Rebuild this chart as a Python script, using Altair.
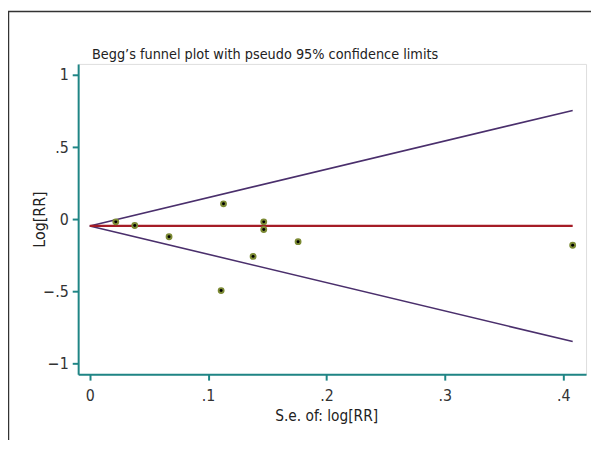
import altair as alt
import pandas as pd

# ---- data ----
se = [0.022, 0.038, 0.067, 0.113, 0.147, 0.147, 0.176, 0.138, 0.111, 0.408]
logrr = [-0.017, -0.042, -0.120, 0.108, -0.017, -0.070, -0.154, -0.256, -0.493, -0.179]

line_se = [0.0, 0.408]
pooled = [-0.045, -0.045]
upper = [-0.045, 0.755]
lower = [-0.045, -0.846]

x_ticks = [0, 0.1, 0.2, 0.3, 0.4]
x_labels = ["0", ".1", ".2", ".3", ".4"]
y_ticks = [-1, -0.5, 0, 0.5, 1]
y_labels = ["\u22121", "\u2212.5", "0", ".5", "1"]

title_text = "Begg\u2019s funnel plot with pseudo 95% confidence limits"
x_title = "S.e. of: log[RR]"
y_title = "Log[RR]"

FONT = "Liberation Sans Narrow, DejaVu Sans Condensed, sans-serif"
TEAL = "#1f8585"
W, H = 514, 314

pts = pd.DataFrame({"se": se, "y": logrr})
lines = pd.DataFrame({
    "se": line_se * 3,
    "y": upper + lower + pooled,
    "s": ["upper"] * 2 + ["lower"] * 2 + ["pooled"] * 2,
})

def lab_expr(vals, labs):
    parts = " : ".join(f"abs(datum.value - ({v})) < 1e-9 ? '{l}'" for v, l in zip(vals, labs))
    return parts + " : ''"

xs = alt.Scale(domain=[-0.0098, 0.4193], nice=False, zero=False)
ys = alt.Scale(domain=[-1.072, 1.077], nice=False, zero=False)

x_axis = alt.Axis(values=x_ticks, labelExpr=lab_expr(x_ticks, x_labels), grid=False,
                  domainColor=TEAL, domainWidth=2, tickColor=TEAL, tickWidth=2, tickSize=6,
                  labelFontSize=16, labelFont=FONT, labelColor="#333333", labelPadding=8,
                  title=x_title, titleFont=FONT, titleFontSize=15.5, titleFontWeight="normal",
                  titleColor="#222222", titleX=251, titleY=35, titleBaseline="top", titleAlign="center")
y_axis = alt.Axis(values=y_ticks, labelExpr=lab_expr(y_ticks, y_labels), grid=False,
                  domainColor=TEAL, domainWidth=2, tickColor=TEAL, tickWidth=2, tickSize=6,
                  labelFontSize=16, labelFont=FONT, labelColor="#333333", labelPadding=4,
                  title=y_title, titleFont=FONT, titleFontSize=16, titleFontWeight="normal",
                  titleColor="#222222", titleX=-39, titleY=157, titleAngle=-90,
                  titleAlign="center", titleBaseline="middle")

base_lines = alt.Chart(lines)
funnel = base_lines.transform_filter("datum.s != 'pooled'").mark_line(
    color="#4a2f6c", strokeWidth=1.6).encode(
    x=alt.X("se:Q", scale=xs, axis=x_axis),
    y=alt.Y("y:Q", scale=ys, axis=y_axis),
    detail="s:N")
pool = base_lines.transform_filter("datum.s == 'pooled'").mark_line(
    color="#a51c26", strokeWidth=2.2).encode(
    x=alt.X("se:Q", scale=xs), y=alt.Y("y:Q", scale=ys))

ring = alt.Chart(pts).mark_point(shape="circle", filled=True, color="#7c8a34", size=48, opacity=1).encode(
    x=alt.X("se:Q", scale=xs), y=alt.Y("y:Q", scale=ys))
dot = alt.Chart(pts).mark_point(shape="circle", filled=True, color="#000000", size=9, opacity=1).encode(
    x=alt.X("se:Q", scale=xs), y=alt.Y("y:Q", scale=ys))

one = alt.Data(values=[{"t": title_text}])
frame_left = alt.Chart(one).mark_rule(color="#333333", strokeWidth=1.5).encode(
    x=alt.value(-70.5), y=alt.value(-53), y2=alt.value(H + 90))
frame_top = alt.Chart(one).mark_rule(color="#333333", strokeWidth=1.5).encode(
    x=alt.value(-71), x2=alt.value(W + 10), y=alt.value(-53))
title = alt.Chart(one).mark_text(align="left", baseline="alphabetic", font=FONT, fontSize=14.5,
                                 color="#222222").encode(
    x=alt.value(14), y=alt.value(-5), text="t:N")

chart = alt.layer(frame_left, frame_top, title, funnel, pool, ring, dot).properties(
    width=W, height=H,
    autosize=alt.AutoSizeParams(type="none"),
    padding={"left": 71, "top": 54, "right": 5, "bottom": 64},
).configure_view(stroke="transparent", strokeWidth=0).configure(background="white")

chart.save("out.html", embed_options={"renderer": "svg", "actions": False})
